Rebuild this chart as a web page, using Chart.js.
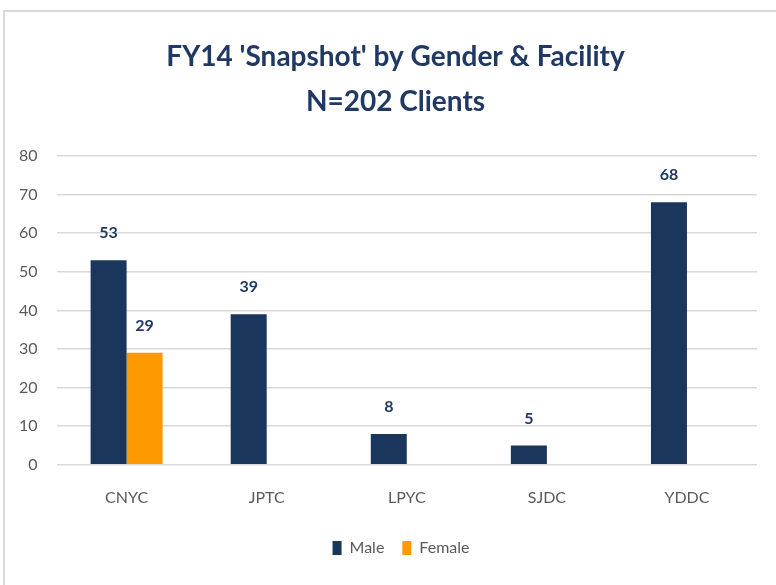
<!DOCTYPE html>
<html><head><meta charset="utf-8">
<script src="https://cdn.jsdelivr.net/npm/chart.js@4/dist/chart.umd.min.js"></script>
<style>
html,body{margin:0;padding:0;background:#fff;}
#frame{position:absolute;left:3px;top:10px;width:800px;height:600px;border-left:2px solid #d9d9d9;border-top:2px solid #d9d9d9;}
#wrap{position:absolute;left:0;top:0;width:776px;height:585px;}
</style></head>
<body>
<div id="frame"></div>
<div id="wrap"><canvas id="c" width="776" height="585"></canvas></div>
<script>
const categories = ['CNYC','JPTC','LPYC','SJDC','YDDC'];
const maleValues = [53, 39, 8, 5, 68];
const femaleValues = [29, null, null, null, null];
const titleLines = ["FY14 'Snapshot' by Gender & Facility", 'N=202 Clients'];

const FAMILY = 'Lato, "Open Sans", sans-serif';

const labelPlugin = {
  id: 'barLabels',
  afterLayout(chart) {
    // centre title and legend over the whole frame (as in the original), not just the padded box
    if (chart.titleBlock) { chart.titleBlock.left = 34; }
    if (chart.legend) { chart.legend.left = 45; }
  },
  afterDatasetsDraw(chart) {
    const ctx = chart.ctx;
    ctx.save();
    ctx.font = 'bold 16px ' + FAMILY;
    ctx.fillStyle = '#1f3864';
    ctx.textAlign = 'center';
    ctx.textBaseline = 'middle';
    chart.data.datasets.forEach((ds, i) => {
      const meta = chart.getDatasetMeta(i);
      meta.data.forEach((bar, j) => {
        const v = ds.data[j];
        if (v === null || v === undefined) return;
        ctx.fillText(String(v), bar.x, bar.y - 27);
      });
    });
    ctx.restore();
  }
};

new Chart(document.getElementById('c'), {
  type: 'bar',
  data: {
    labels: categories,
    datasets: [
      { label: 'Male', data: maleValues, backgroundColor: '#1a365d' },
      { label: 'Female', data: femaleValues, backgroundColor: '#ff9900' }
    ]
  },
  options: {
    responsive: false,
    animation: false,
    layout: { padding: { left: 0, right: 19, top: 34, bottom: 19 } },
    datasets: { bar: { categoryPercentage: 0.514, barPercentage: 1.0 } },
    plugins: {
      title: {
        display: true,
        text: titleLines,
        color: '#1f3864',
        font: { family: FAMILY, size: 28, weight: 'bold', lineHeight: 45 / 28 },
        padding: { top: 0, bottom: 32 }
      },
      legend: {
        position: 'bottom',
        labels: {
          color: '#595959',
          font: { family: FAMILY, size: 16 },
          boxWidth: 9, boxHeight: 14, padding: 18
        }
      },
      tooltip: { enabled: false }
    },
    scales: {
      x: {
        grid: { display: false },
        border: { display: false },
        ticks: { color: '#595959', font: { family: FAMILY, size: 16 }, padding: 15 }
      },
      y: {
        min: 0, max: 80,
        ticks: { stepSize: 10, color: '#595959', font: { family: FAMILY, size: 16 }, padding: 19 },
        grid: { color: '#d9d9d9', lineWidth: 1.5, drawTicks: false },
        border: { display: false }
      }
    }
  },
  plugins: [labelPlugin]
});
</script>
</body></html>
